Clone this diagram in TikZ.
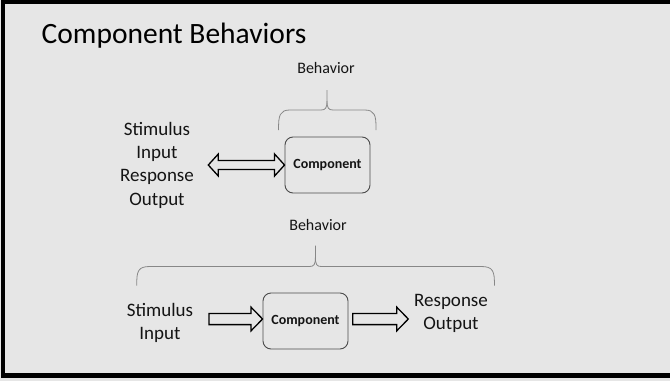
\documentclass[tikz,border=0pt]{standalone}
\usepackage{fontspec}
\setmainfont{Carlito}
\usetikzlibrary{calc}

\definecolor{slidebg}{RGB}{230,230,230}
\definecolor{bracegray}{RGB}{135,135,135}
\definecolor{boxgray}{RGB}{75,75,75}
\definecolor{inkcol}{RGB}{20,20,20}

\begin{document}
\begin{tikzpicture}[x=1pt,y=-1pt,
  lbl/.style={inner sep=0pt, align=center, text=inkcol, font=\fontsize{19}{23.3}\selectfont},
  behav/.style={inner sep=0pt, text=inkcol, font=\fontsize{16}{19}\selectfont},
  compbox/.style={draw=boxgray, line width=0.9pt, rounded corners=8pt,
    minimum width=85pt, minimum height=56pt, inner sep=0pt, text=inkcol,
    font=\bfseries\fontsize{14}{16}\selectfont},
  bracepath/.style={draw=bracegray, line width=0.8pt},
  % hollow block arrow from the start point to the tip at the target
  fatarrow/.style={draw=black, line width=1.3pt, line join=miter,
    to path={let \p1=(\tikztostart), \p2=(\tikztotarget) in
      (\x1,{\y1+5.6pt}) -- ({\x2-11.5pt},{\y1+5.6pt}) -- ({\x2-11.5pt},{\y1+11.8pt})
      -- (\x2,\y1) -- ({\x2-11.5pt},{\y1-11.8pt}) -- ({\x2-11.5pt},{\y1-5.6pt})
      -- (\x1,{\y1-5.6pt}) -- cycle}},
  % hollow block arrow with a head at each end
  fatdouble/.style={draw=black, line width=1.3pt, line join=miter,
    to path={let \p1=(\tikztostart), \p2=(\tikztotarget) in
      (\x1,\y1) -- ({\x1+10pt},{\y1+11pt}) -- ({\x1+10pt},{\y1+4.5pt})
      -- ({\x2-10pt},{\y1+4.5pt}) -- ({\x2-10pt},{\y1+11pt}) -- (\x2,\y1)
      -- ({\x2-10pt},{\y1-11pt}) -- ({\x2-10pt},{\y1-4.5pt})
      -- ({\x1+10pt},{\y1-4.5pt}) -- ({\x1+10pt},{\y1-11pt}) -- cycle}},
]
\useasboundingbox (0,0) rectangle (670,381);
\clip (0,0) rectangle (670,381);
\fill[slidebg] (0,0) rectangle (670,381);

% slide frame (open on the right)
\draw[black, line width=4.2pt] (690,2) -- (3,2) -- (3,375.5) -- (690,375.5);

% title
\node[anchor=base west, inner sep=0pt, text=black, font=\fontsize{29.5}{34}\selectfont]
  (title) at (41.5,43.3) {Component Behaviors};

% ---- upper part: two-way interaction ----
\node[behav] (beh1) at (326,68) {Behavior};
\draw[bracepath] (278.6,130) .. controls (278.3,115) and (280,110) .. (290,110)
  -- (321,110) .. controls (325.5,110) and (327,108) .. (327,101) -- (327,90);
\draw[bracepath] (376,130) .. controls (376.3,115) and (374.6,110) .. (364.6,110)
  -- (333,110) .. controls (328.5,110) and (327,108) .. (327,101);

\node[compbox] (comp1) at (327.5,165) {Component};
\node[lbl] (io1) at (157,165) {Stimulus\\Input\\Response\\Output};
\coordinate (io1tip) at (208.3,165);
\draw[fatdouble] (io1tip) to (comp1.west);

% ---- lower part: one-way flow ----
\node[behav] (beh2) at (318,225) {Behavior};
\draw[bracepath] (136.8,285.7) .. controls (136.5,271) and (138,266.5) .. (150,266.5)
  -- (309.5,266.5) .. controls (314,266.5) and (315.4,264.5) .. (315.4,257.5) -- (315.4,245.7);
\draw[bracepath] (494.4,285.7) .. controls (494.7,271) and (493,266.5) .. (481,266.5)
  -- (321.3,266.5) .. controls (316.8,266.5) and (315.4,264.5) .. (315.4,257.5);

\node[compbox] (comp2) at (305.5,321) {Component};
\node[lbl] (in2) at (160,323) {Stimulus\\Input};
\node[lbl] (out2) at (451,313.5) {Response\\Output};

\coordinate (in2tail) at (209,319);
\coordinate (out2tail) at (352.7,319);
\coordinate (out2tip) at (408.3,319);
\draw[fatarrow] (in2tail) to (comp2.west);
\draw[fatarrow] (out2tail) to (out2tip);
\end{tikzpicture}
\end{document}
